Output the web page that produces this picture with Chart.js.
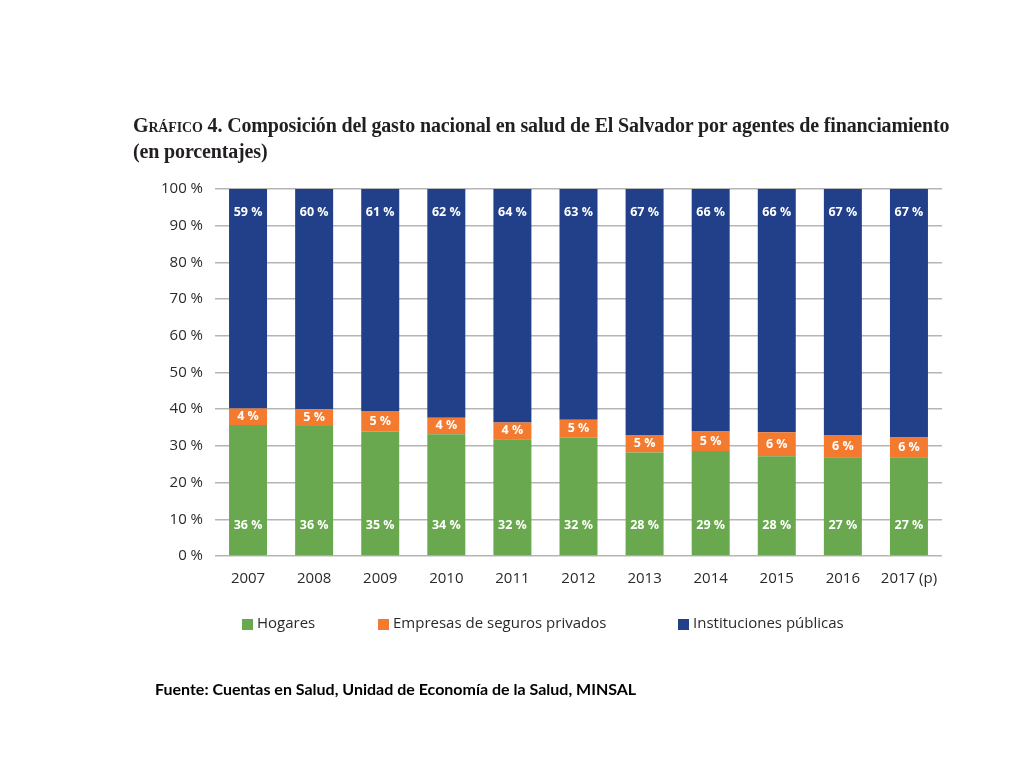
<!DOCTYPE html>
<html>
<head>
<meta charset="utf-8">
<script src="https://cdn.jsdelivr.net/npm/chart.js@4/dist/chart.umd.min.js"></script>
<style>
  html, body { margin: 0; padding: 0; background: #fff; }
  #wrap { position: relative; width: 1024px; height: 768px; overflow: hidden; }
  canvas { position: absolute; left: 0; top: 0; }
  #title { position: absolute; left: 133px; top: 112px; font-family: "Liberation Serif", serif; font-weight: bold; font-size: 20px; line-height: 26px; color: #231f20; white-space: nowrap; letter-spacing: -0.15px; }
  #title .sc { font-variant: small-caps; }
  #source { position: absolute; left: 155px; top: 679px; font-family: Lato, "Open Sans", sans-serif; font-weight: bold; font-size: 16px; color: #000; white-space: nowrap; }
</style>
</head>
<body>
<div id="wrap">
  <canvas id="c" width="1024" height="768"></canvas>
  <div id="title"><span class="sc">Gráfico</span> 4. Composición del gasto nacional en salud de El Salvador por agentes de financiamiento<br>(en porcentajes)</div>
  <div id="source">Fuente: Cuentas en Salud, Unidad de Economía de la Salud, MINSAL</div>
</div>
<script>
const years = ['2007','2008','2009','2010','2011','2012','2013','2014','2015','2016','2017 (p)'];
const hogares = [35.7, 35.4, 33.9, 33.2, 31.8, 32.2, 28.2, 28.6, 27.2, 26.9, 26.9];
const empresas = [4.5, 4.6, 5.6, 4.5, 4.6, 4.9, 4.8, 5.3, 6.5, 6.1, 5.4];
const instituciones = [59.8, 60.0, 60.5, 62.3, 63.6, 62.9, 67.0, 66.1, 66.3, 67.0, 67.7];
const hogaresLabels = [36, 36, 35, 34, 32, 32, 28, 29, 28, 27, 27];
const empresasLabels = [4, 5, 5, 4, 4, 5, 5, 5, 6, 6, 6];
const institucionesLabels = [59, 60, 61, 62, 64, 63, 67, 66, 66, 67, 67];
const seriesNames = ['Hogares', 'Empresas de seguros privados', 'Instituciones públicas'];
const yTicks = [0, 10, 20, 30, 40, 50, 60, 70, 80, 90, 100];

const colors = ['#6aa84f', '#f47a2f', '#22408a'];
const labelSets = [hogaresLabels, empresasLabels, institucionesLabels];

const valueLabelPlugin = {
  id: 'valueLabels',
  afterDatasetsDraw(chart) {
    const ctx = chart.ctx;
    ctx.save();
    ctx.font = 'bold 12.5px "Open Sans", sans-serif';
    ctx.fillStyle = '#ffffff';
    ctx.textAlign = 'center';
    ctx.textBaseline = 'middle';
    chart.data.datasets.forEach((ds, di) => {
      const meta = chart.getDatasetMeta(di);
      meta.data.forEach((el, i) => {
        const top = Math.min(el.y, el.base), bot = Math.max(el.y, el.base);
        let y;
        if (di === 0) y = bot - 30;
        else if (di === 1) y = (top + bot) / 2;
        else y = top + 23;
        ctx.fillText(labelSets[di][i] + ' %', el.x, y);
      });
    });
    ctx.restore();
  }
};

const legendPos = [242, 378, 678];
const legendPlugin = {
  id: 'customLegend',
  afterDraw(chart) {
    const ctx = chart.ctx;
    ctx.save();
    ctx.font = '15px "Open Sans", sans-serif';
    ctx.textBaseline = 'middle';
    ctx.textAlign = 'left';
    chart.data.datasets.forEach((ds, di) => {
      const x = legendPos[di];
      const y = 624;
      ctx.fillStyle = ds.backgroundColor;
      ctx.fillRect(x, y - 5, 11, 11);
      ctx.fillStyle = '#2a2a2a';
      ctx.fillText(ds.label, x + 15, y);
    });
    ctx.restore();
  }
};

new Chart(document.getElementById('c'), {
  type: 'bar',
  data: {
    labels: years,
    datasets: [
      { label: seriesNames[0], data: hogares, backgroundColor: colors[0] },
      { label: seriesNames[1], data: empresas, backgroundColor: colors[1] },
      { label: seriesNames[2], data: instituciones, backgroundColor: colors[2] }
    ]
  },
  options: {
    responsive: false,
    animation: false,
    devicePixelRatio: 1,
    layout: { padding: { top: 189, right: 82, left: 0, bottom: 0 } },
    datasets: { bar: { categoryPercentage: 1, barPercentage: 0.575, borderWidth: 0 } },
    plugins: { legend: { display: false }, tooltip: { enabled: false }, title: { display: false } },
    scales: {
      x: {
        stacked: true,
        grid: { display: false, drawTicks: false },
        border: { display: false },
        ticks: { color: '#2a2a2a', font: { family: '"Open Sans", sans-serif', size: 15 }, padding: 14, maxRotation: 0, autoSkip: false },
        afterFit(scale) { scale.height = 768 - 556; }
      },
      y: {
        stacked: true,
        min: 0, max: 100,
        afterBuildTicks(scale) { scale.ticks = yTicks.map(v => ({ value: v })); },
        grid: { color: '#b5b5b5', lineWidth: 1.5, drawTicks: false },
        border: { display: false },
        ticks: { color: '#2a2a2a', font: { family: '"Open Sans", sans-serif', size: 15 }, padding: 12, callback: v => v + ' %' },
        afterFit(scale) { scale.width = 215; }
      }
    }
  },
  plugins: [valueLabelPlugin, legendPlugin]
});
</script>
</body>
</html>
